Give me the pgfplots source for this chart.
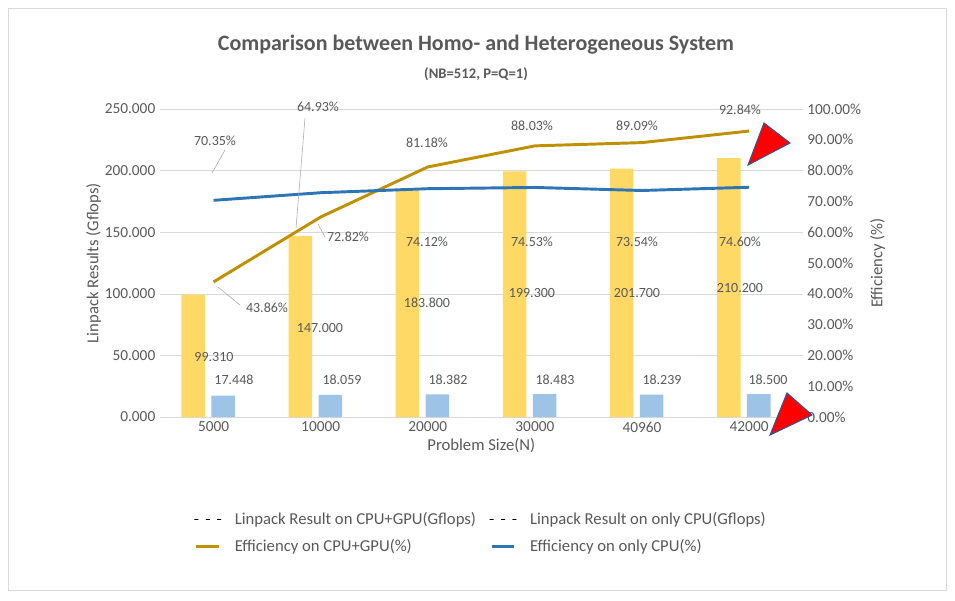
\documentclass[border=0pt]{standalone}
\usepackage{pgfplots}
\pgfplotsset{compat=1.18}
\usepackage{fontspec}
\setmainfont{Carlito}
\definecolor{txt}{HTML}{595959}
\definecolor{ybar}{HTML}{FFD966}
\definecolor{bbar}{HTML}{9DC3E6}
\definecolor{gold}{HTML}{BF9000}
\definecolor{blu}{HTML}{2E75B6}
\definecolor{grd}{HTML}{D9D9D9}
\definecolor{tri}{RGB}{47,85,151}
\begin{document}
\begin{tikzpicture}[every node/.style={text=txt}]
\useasboundingbox (0,0) rectangle (716.25pt,-450pt);
\draw[grd] (6pt,-6pt) rectangle (710pt,-443pt);
\pgfplotsset{myax/.style={at={(120pt,-312.75pt)},anchor=south west,scale only axis,width=482pt,height=231pt,
 xmin=-0.5,xmax=5.5,ymin=0,axis line style={draw=none},tick style={draw=none},
 ticklabel style={font=\fontsize{11.5}{13}\selectfont,text=txt},
 /pgf/number format/assume math mode=true}}
\begin{axis}[myax,ymax=250,ytick={0,50,...,250},ymajorgrids,grid style={grd},
 yticklabel style={/pgf/number format/.cd,fixed,fixed zerofill,precision=3},
 xtick={0,...,5},xticklabels={5000,10000,20000,30000,40960,42000},
 axis x line*=bottom, x axis line style={draw=grd},
 ylabel={Linpack Results (Gflops)},ylabel style={font=\fontsize{12.5}{14}\selectfont,text=txt,yshift=-4pt},
 xlabel={Problem Size(N)},xlabel style={font=\fontsize{12.5}{14}\selectfont,text=txt,yshift=2pt},
 legend columns=2,legend style={at={(0.5,-0.29)},anchor=north,draw=none,font=\fontsize{12.5}{14}\selectfont,text=txt,column sep=8pt,row sep=6pt},
 legend cell align=left]
\addplot[ybar,bar width=0.22,bar shift=-0.19,fill=ybar,draw=none] coordinates {(0,99.310)(1,147.000)(2,183.800)(3,199.300)(4,201.700)(5,210.200)};
\addlegendentry{Linpack Result on CPU+GPU(Gflops)}
\addplot[ybar,bar width=0.22,bar shift=0.09,fill=bbar,draw=none] coordinates {(0,17.448)(1,18.059)(2,18.382)(3,18.483)(4,18.239)(5,18.500)};
\addlegendentry{Linpack Result on only CPU(Gflops)}
\addlegendimage{gold,line width=2.2pt}\addlegendentry{Efficiency on CPU+GPU(\%)}
\addlegendimage{blu,line width=2.2pt}\addlegendentry{Efficiency on only CPU(\%)}
\end{axis}
\begin{axis}[myax,ymax=100,ytick={0,10,...,100},axis y line*=right,xtick=\empty,
 yticklabel={\pgfmathprintnumber[fixed,fixed zerofill,precision=2]{\tick}\%},
 ylabel={Efficiency (\%)},ylabel style={font=\fontsize{12.5}{14}\selectfont,text=txt}]
\addplot[gold,line width=2.2pt] coordinates {(0,43.86)(1,64.93)(2,81.18)(3,88.03)(4,89.09)(5,92.84)};
\addplot[blu,line width=2.2pt] coordinates {(0,70.35)(1,72.82)(2,74.12)(3,74.53)(4,73.54)(5,74.60)};
\end{axis}
\begin{scope}[x=0.75pt,y=-0.75pt]
\node[font=\bfseries\fontsize{16.5}{18}\selectfont] at (476,45) {Comparison between Homo- and Heterogeneous System};
\node[font=\bfseries\fontsize{11}{12}\selectfont] at (476,74) {(NB=512, P=Q=1)};
\begin{scope}[every node/.append style={font=\fontsize{10.5}{12}\selectfont,text=txt}]
\node at (214,357) {99.310};\node at (320,328) {147.000};\node at (427,303) {183.800};
\node at (532,293) {199.300};\node at (637,293) {201.700};\node at (740,288) {210.200};
\node at (234,380) {17.448};\node at (342,380) {18.059};\node at (448,380) {18.382};
\node at (555,380) {18.483};\node at (662,380) {18.239};\node at (768,380) {18.500};
\node at (267,308) {43.86\%};\node at (318,107) {64.93\%};\node at (427,143) {81.18\%};
\node at (532,126) {88.03\%};\node at (637,126) {89.09\%};\node at (740,110) {92.84\%};
\node at (215,141) {70.35\%};\node at (348,237) {72.82\%};\node at (427,242) {74.12\%};
\node at (532,242) {74.53\%};\node at (637,242) {73.54\%};\node at (740,242) {74.60\%};
\end{scope}
\draw[gray!70] (225,150) -- (212,173);
\draw[gray!70] (305,118) -- (296,228);
\draw[gray!70] (325,237) -- (318,224);
\draw[gray!70] (240,305) -- (218,287);
\filldraw[fill=red,draw=tri,line width=0.8pt] (764,123) -- (790,143) -- (748,165) -- cycle;
\filldraw[fill=red,draw=tri,line width=0.8pt] (787,393) -- (812,415) -- (770,435) -- cycle;
\end{scope}
\end{tikzpicture}
\end{document}
